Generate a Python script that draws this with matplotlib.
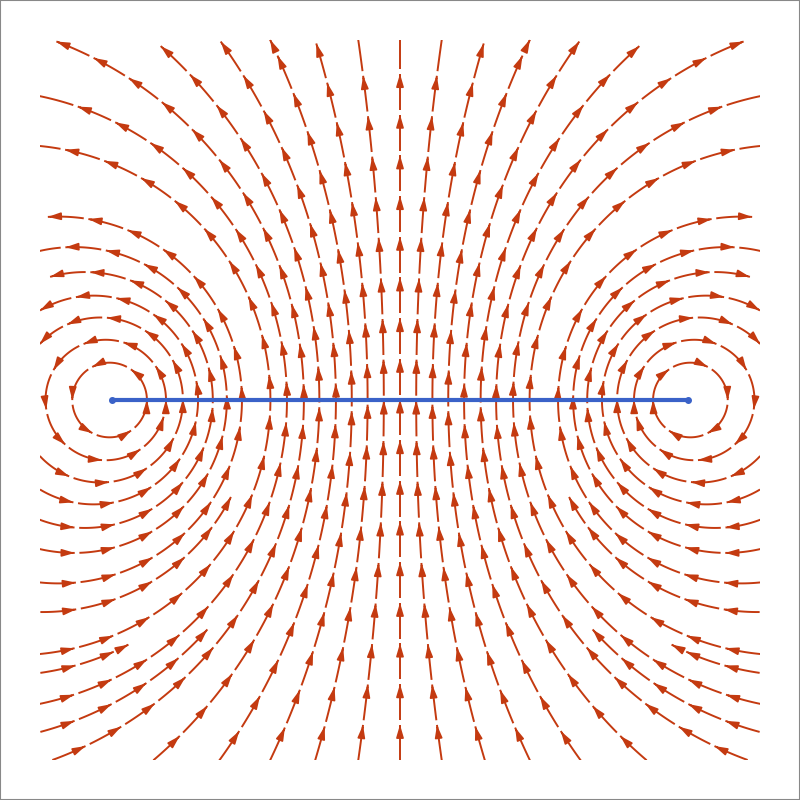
import numpy as np
import matplotlib
matplotlib.use("Agg")
import matplotlib.pyplot as plt
from matplotlib.patches import Rectangle

# two antiparallel wires sitting at the ends of the strip
wire_x = [-0.8, 0.8]
wire_sign = [1, -1]          # +1 counterclockwise, -1 clockwise
strip_x = [-0.8, 0.8]
strip_y = [0.0, 0.0]

# where the stream lines cut the strip (distance from centre, symmetric)
seed_offsets = [0.045, 0.09, 0.134, 0.178, 0.224, 0.267, 0.314, 0.36,
                0.439, 0.481, 0.52, 0.561, 0.603, 0.65, 0.703]
seed_x = [0.0] + seed_offsets + [-s for s in seed_offsets]

# extra lines entering from the side edges in the lower half
edge_seed_y = [-0.589, -0.758, -0.922]

LINE_COLOR = "#c43a10"
STRIP_COLOR = "#3a62c8"
DASH = 0.10    # arc length of each dash (data units)
GAP = 0.013
STEP = 0.003
MIN_SEP = 0.04


def field(x, y):
    u = 0.0
    v = 0.0
    for wx, s in zip(wire_x, wire_sign):
        dx = x - wx
        r2 = dx**2 + y**2 + 1e-12
        u += s * (-y) / r2
        v += s * dx / r2
    return u, v


def direction(p, sgn):
    u, v = field(p[0], p[1])
    n = np.hypot(u, v)
    return sgn * np.array([u, v]) / n


def trace(p0, sgn, avoid=None):
    pts = [np.array(p0, float)]
    p = pts[0].copy()
    travelled = 0.0
    for _ in range(6000):
        k1 = direction(p, sgn)
        k2 = direction(p + 0.5 * STEP * k1, sgn)
        k3 = direction(p + 0.5 * STEP * k2, sgn)
        k4 = direction(p + STEP * k3, sgn)
        p = p + STEP / 6 * (k1 + 2 * k2 + 2 * k3 + k4)
        travelled += STEP
        pts.append(p.copy())
        if abs(p[0]) > 1.0 or abs(p[1]) > 1.0:
            return np.array(pts), False
        if avoid is not None:
            if np.min(np.hypot(avoid[:, 0] - p[0], avoid[:, 1] - p[1])) < MIN_SEP:
                return np.array(pts), False
        if travelled > 0.1 and np.hypot(*(p - pts[0])) < STEP:
            pts[-1] = pts[0]
            return np.array(pts), True
    return np.array(pts), False


lines = []
for sx in seed_x:
    fwd, closed = trace((sx, 0.0), 1)
    if closed:
        lines.append(fwd)
    else:
        back, _ = trace((sx, 0.0), -1)
        lines.append(np.vstack([back[::-1], fwd[1:]]))

base_pts = np.vstack(lines)
for ey in edge_seed_y:
    for ex in (-0.999, 0.999):
        extra, _ = trace((ex, ey), 1, avoid=base_pts)
        lines.append(extra)

fig = plt.figure(figsize=(8, 8), dpi=100)
ax = fig.add_axes([0.05, 0.05, 0.9, 0.9])
ax.set_xlim(-1, 1)
ax.set_ylim(-1, 1)
ax.axis("off")


def interp(pts, cum, t):
    xi = np.interp(t, cum, pts[:, 0])
    yi = np.interp(t, cum, pts[:, 1])
    return np.column_stack([xi, yi])


for pts in lines:
    d = np.hypot(np.diff(pts[:, 0]), np.diff(pts[:, 1]))
    cum = np.concatenate([[0], np.cumsum(d)])
    total = cum[-1]
    start = 0.0
    while start < total - 0.03:
        end = min(start + DASH, total)
        t = np.linspace(start, end, 25)
        p = interp(pts, cum, t)
        ax.plot(p[:, 0], p[:, 1], color=LINE_COLOR, lw=1.4,
                solid_capstyle="butt")
        ax.annotate("", xy=p[-1], xytext=p[-3],
                    arrowprops=dict(arrowstyle="-|>,head_length=0.75,head_width=0.22",
                                    color=LINE_COLOR, lw=1.2,
                                    shrinkA=0, shrinkB=0))
        start = end + GAP

ax.plot(strip_x, strip_y, color=STRIP_COLOR, lw=3, marker="o", ms=4,
        zorder=5)

fig.patches.append(Rectangle((0, 0), 1, 1, transform=fig.transFigure,
                             fill=False, edgecolor="#888888", lw=1.5))

fig.savefig("out.png", dpi=100)
